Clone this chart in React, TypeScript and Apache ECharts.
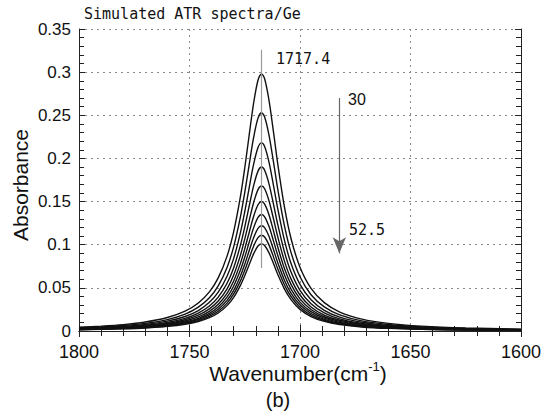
import React, { useEffect, useRef } from "react";
import * as echarts from "echarts";

// Wavenumbers (cm-1) at which each simulated spectrum was read
const wavenumbers = [1800, 1790, 1780, 1770, 1760, 1752, 1746, 1741, 1737, 1733, 1730, 1727, 1725, 1723, 1721, 1719, 1717.4, 1716, 1714, 1712, 1710, 1707, 1704, 1700, 1695, 1689, 1682, 1672, 1660, 1645, 1625, 1600];

// Absorbance for angles of incidence 30 ... 52.5 deg
const abs30 = [0.0043, 0.0056, 0.0074, 0.0104, 0.0156, 0.0230, 0.0325, 0.0454, 0.0616, 0.0868, 0.1152, 0.1551, 0.1889, 0.2269, 0.2638, 0.2906, 0.298, 0.2923, 0.2671, 0.2307, 0.1926, 0.1432, 0.1066, 0.0740, 0.0495, 0.0329, 0.0220, 0.0138, 0.0088, 0.0056, 0.0035, 0.0022];
const abs325 = [0.0037, 0.0047, 0.0063, 0.0088, 0.0132, 0.0195, 0.0276, 0.0385, 0.0523, 0.0737, 0.0978, 0.1317, 0.1604, 0.1926, 0.2240, 0.2467, 0.253, 0.2481, 0.2268, 0.1959, 0.1635, 0.1215, 0.0905, 0.0628, 0.0420, 0.0279, 0.0187, 0.0117, 0.0075, 0.0047, 0.0029, 0.0018];
const abs35 = [0.0032, 0.0041, 0.0054, 0.0076, 0.0114, 0.0168, 0.0237, 0.0332, 0.0450, 0.0635, 0.0842, 0.1134, 0.1382, 0.1660, 0.1930, 0.2126, 0.218, 0.2138, 0.1954, 0.1688, 0.1409, 0.1047, 0.0780, 0.0541, 0.0362, 0.0240, 0.0161, 0.0101, 0.0064, 0.0041, 0.0025, 0.0016];
const abs375 = [0.0027, 0.0035, 0.0047, 0.0066, 0.0099, 0.0146, 0.0207, 0.0289, 0.0392, 0.0553, 0.0734, 0.0989, 0.1204, 0.1446, 0.1682, 0.1853, 0.190, 0.1863, 0.1703, 0.1471, 0.1228, 0.0913, 0.0680, 0.0472, 0.0316, 0.0210, 0.0140, 0.0088, 0.0056, 0.0036, 0.0022, 0.0014];
const abs40 = [0.0024, 0.0031, 0.0042, 0.0059, 0.0088, 0.0130, 0.0183, 0.0256, 0.0347, 0.0489, 0.0649, 0.0874, 0.1065, 0.1279, 0.1487, 0.1638, 0.168, 0.1648, 0.1506, 0.1301, 0.1086, 0.0807, 0.0601, 0.0417, 0.0279, 0.0185, 0.0124, 0.0078, 0.0049, 0.0031, 0.0019, 0.0012];
const abs425 = [0.0022, 0.0028, 0.0037, 0.0052, 0.0078, 0.0116, 0.0163, 0.0228, 0.0310, 0.0437, 0.0580, 0.0781, 0.0951, 0.1142, 0.1328, 0.1463, 0.150, 0.1471, 0.1345, 0.1161, 0.0969, 0.0721, 0.0537, 0.0372, 0.0249, 0.0165, 0.0111, 0.0069, 0.0044, 0.0028, 0.0017, 0.0011];
const abs45 = [0.0020, 0.0025, 0.0034, 0.0047, 0.0070, 0.0104, 0.0147, 0.0205, 0.0279, 0.0393, 0.0522, 0.0703, 0.0856, 0.1028, 0.1195, 0.1316, 0.135, 0.1324, 0.1210, 0.1045, 0.0872, 0.0649, 0.0483, 0.0335, 0.0224, 0.0149, 0.0100, 0.0062, 0.0040, 0.0025, 0.0016, 0.0010];
const abs475 = [0.0018, 0.0023, 0.0030, 0.0043, 0.0064, 0.0094, 0.0133, 0.0186, 0.0252, 0.0355, 0.0471, 0.0635, 0.0773, 0.0929, 0.1080, 0.1190, 0.122, 0.1197, 0.1094, 0.0945, 0.0788, 0.0586, 0.0436, 0.0303, 0.0203, 0.0135, 0.0090, 0.0056, 0.0036, 0.0023, 0.0014, 0.0009];
const abs50 = [0.0016, 0.0021, 0.0028, 0.0039, 0.0058, 0.0086, 0.0121, 0.0169, 0.0229, 0.0323, 0.0429, 0.0578, 0.0704, 0.0845, 0.0983, 0.1082, 0.111, 0.1089, 0.0995, 0.0859, 0.0717, 0.0533, 0.0397, 0.0276, 0.0184, 0.0122, 0.0082, 0.0051, 0.0033, 0.0021, 0.0013, 0.0008];
const abs525 = [0.0015, 0.0019, 0.0025, 0.0035, 0.0053, 0.0078, 0.0110, 0.0154, 0.0209, 0.0294, 0.0390, 0.0526, 0.0640, 0.0769, 0.0894, 0.0985, 0.101, 0.0991, 0.0905, 0.0782, 0.0653, 0.0485, 0.0361, 0.0251, 0.0168, 0.0111, 0.0075, 0.0047, 0.0030, 0.0019, 0.0012, 0.0007];

const spectra = [abs30, abs325, abs35, abs375, abs40, abs425, abs45, abs475, abs50, abs525];
const angleLabels = ["30", "32.5", "35", "37.5", "40", "42.5", "45", "47.5", "50", "52.5"];

const peakPosition = 1717.4;
const peakMarkerRange = [0.326, 0.073];
const arrowPosition = 1682.2;
const arrowRange = [0.27, 0.09];

const xTicks = { min: 1600, max: 1800, interval: 50 };
const yTicks = { min: 0, max: 0.35, interval: 0.05 };

const labelFont = "'Liberation Sans', Arial, Helvetica, sans-serif";
const monoFont = "'DejaVu Sans Mono', 'Liberation Mono', monospace";

export default function App() {
  const ref = useRef<HTMLDivElement>(null);
  useEffect(() => {
    if (!ref.current) return;
    const chart = echarts.init(ref.current, undefined, { renderer: "svg" });
    const gridLine = { show: true, lineStyle: { color: "#8a8a8a", width: 1, type: [2, 4] as any } };
    const axisLine = { show: true, lineStyle: { color: "#222", width: 1 } };
    const plain = (v: number) => String(v);
    const series: any[] = spectra.map((vals, i) => ({
      name: angleLabels[i],
      type: "line",
      data: wavenumbers.map((w, j) => [w, vals[j]]),
      showSymbol: false,
      smooth: 0.3,
      lineStyle: { color: "#111", width: 1.4 },
      itemStyle: { color: "#111" },
      emphasis: { disabled: true },
      silent: true,
      z: 3,
    }));
    series[0].markLine = {
      silent: true,
      animation: false,
      label: { show: false },
      emphasis: { disabled: true },
      data: [
        [
          { coord: [peakPosition, peakMarkerRange[0]], symbol: "none", lineStyle: { color: "#9a9a9a", width: 1.2, type: "solid" } },
          { coord: [peakPosition, peakMarkerRange[1]], symbol: "none" },
        ],
        [
          { coord: [arrowPosition, arrowRange[0]], symbol: "none", lineStyle: { color: "#666", width: 1.2, type: "solid" } },
          { coord: [arrowPosition, arrowRange[1]], symbol: "arrow", symbolSize: [10, 16] },
        ],
      ],
      itemStyle: { color: "#111" },
    };
    chart.setOption({
      animation: false,
      backgroundColor: "#fff",
      grid: { left: 79, right: 23, top: 29, bottom: 80, containLabel: false },
      xAxis: [
        {
          type: "value",
          inverse: true,
          min: xTicks.min,
          max: xTicks.max,
          interval: xTicks.interval,
          axisLine,
          axisTick: { show: true, inside: true, length: 6, lineStyle: { color: "#222" } },
          minorTick: { show: true, splitNumber: 5, length: 5, lineStyle: { color: "#222" } },
          splitLine: gridLine,
          axisLabel: { color: "#111", fontSize: 18, fontFamily: labelFont, margin: 12, formatter: plain },
        },
        {
          type: "value",
          position: "top",
          inverse: true,
          min: xTicks.min,
          max: xTicks.max,
          interval: xTicks.interval,
          axisLine,
          axisTick: { show: true, inside: true, length: 6, lineStyle: { color: "#222" } },
          minorTick: { show: true, splitNumber: 5, length: 5, lineStyle: { color: "#222" } },
          splitLine: { show: false },
          axisLabel: { show: false },
        },
      ],
      yAxis: [
        {
          type: "value",
          min: yTicks.min,
          max: yTicks.max,
          interval: yTicks.interval,
          axisLine,
          axisTick: { show: true, inside: true, length: 6, lineStyle: { color: "#222" } },
          minorTick: { show: true, splitNumber: 5, length: 5, lineStyle: { color: "#222" } },
          splitLine: gridLine,
          axisLabel: { color: "#111", fontSize: 17, fontFamily: labelFont, margin: 8, formatter: plain },
        },
        {
          type: "value",
          position: "right",
          min: yTicks.min,
          max: yTicks.max,
          interval: yTicks.interval,
          axisLine,
          axisTick: { show: true, inside: true, length: 6, lineStyle: { color: "#222" } },
          minorTick: { show: true, splitNumber: 5, length: 5, lineStyle: { color: "#222" } },
          splitLine: { show: false },
          axisLabel: { show: false },
        },
      ],
      series,
      graphic: [
        { type: "text", left: 84, top: 6, style: { text: "Simulated ATR spectra/Ge", fontSize: 15, fontFamily: monoFont, fill: "#111" } },
        { type: "text", left: 276, top: 51, style: { text: "1717.4", fontSize: 15, fontFamily: monoFont, fill: "#111" } },
        { type: "text", left: 348, top: 91, style: { text: "30", fontSize: 16, fontFamily: labelFont, fill: "#111" } },
        { type: "text", left: 349, top: 222, style: { text: "52.5", fontSize: 15, fontFamily: monoFont, fill: "#111" } },
        {
          type: "text",
          x: 20,
          y: 185,
          rotation: Math.PI / 2,
          style: { text: "Absorbance", fontSize: 21, fontFamily: labelFont, fill: "#111", align: "center", verticalAlign: "middle" },
        },
        {
          type: "text",
          x: 298,
          y: 373,
          style: {
            text: "{a|Wavenumber(cm}{s|-1}{a|)}",
            align: "center",
            verticalAlign: "middle",
            rich: {
              a: { fontSize: 21, fontFamily: labelFont, fill: "#111" },
              s: { fontSize: 13, fontFamily: labelFont, fill: "#111", padding: [0, 0, 13, 0] },
            },
          },
        },
        { type: "text", x: 278, y: 400, style: { text: "(b)", fontSize: 20, fontFamily: labelFont, fill: "#111", align: "center", verticalAlign: "middle" } },
      ],
    });
    return () => chart.dispose();
  }, []);
  return <div ref={ref} style={{ position: "fixed", left: 0, top: 0, width: 544, height: 411, background: "#fff" }} />;
}
